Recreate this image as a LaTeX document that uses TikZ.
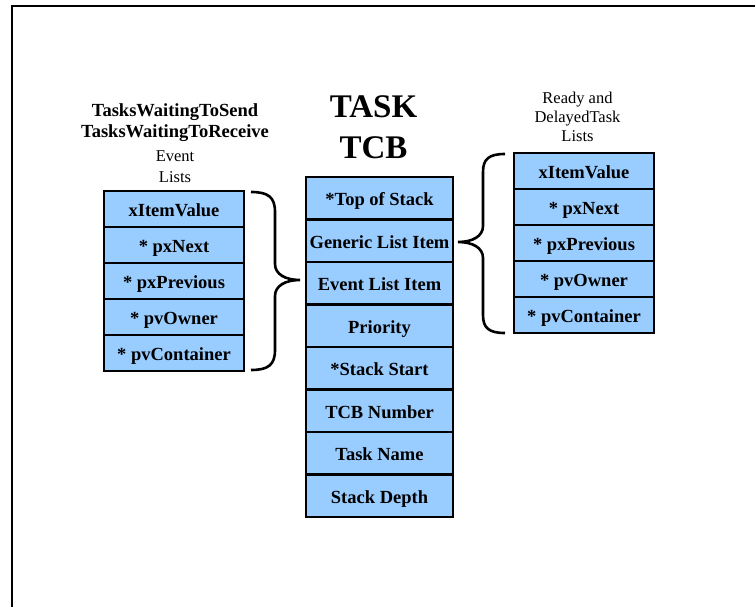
\documentclass[tikz,border=0pt]{standalone}
\usepackage{fontspec}
\setmainfont{Liberation Serif}
\definecolor{cellblue}{RGB}{153,204,255}
\newcommand\fieldfont{\bfseries\fontsize{18.5}{20}\selectfont}
\newcommand\headfont{\bfseries\fontsize{18.5}{20}\selectfont}
\newcommand\capfont{\fontsize{16.5}{19}\selectfont}
\newcommand\bigfont{\bfseries\fontsize{33}{36}\selectfont}
\begin{document}
\begin{tikzpicture}[x=1pt,y=-1pt,
  field/.style={draw=black, line width=2.6pt, fill=cellblue, inner sep=0pt,
    outer sep=0pt, font=\fieldfont, text height=16pt, text depth=1pt, anchor=north},
  brace/.style={draw=black, line width=2.6pt},
  label/.style={anchor=base, inner sep=0pt}]
\useasboundingbox (0,0) rectangle (755,607);

% outer frame (top and left edges)
\draw[line width=2.3pt] (12,607) -- (12,6) -- (755,6);

% event list item (left)
\foreach \t [count=\i] in {xItemValue, * pxNext, * pxPrevious, * pvOwner, * pvContainer}
  \node[field, minimum width=140pt, minimum height=36pt] (L\i) at (174,{191+(\i-1)*36}) {\t};

% task control block (centre)
\foreach \t [count=\i] in {*Top of Stack, Generic List Item, Event List Item, Priority,
    *Stack Start, TCB Number, Task Name, Stack Depth}
  \node[field, minimum width=147pt, minimum height=42.5pt] (C\i) at (379.5,{177+(\i-1)*42.5}) {\t};

% generic list item (right)
\foreach \t [count=\i] in {xItemValue, * pxNext, * pxPrevious, * pvOwner, * pvContainer}
  \node[field, minimum width=140pt, minimum height=36pt] (R\i) at (584,{153+(\i-1)*36}) {\t};

% titles
\node[label, font=\bigfont] (tTask) at (373.5,117.3) {TASK};
\node[label, font=\bigfont] (tTcb) at (373.5,158.3) {TCB};

\node[label, font=\headfont] (tSend) at (175,116.7) {TasksWaitingToSend};
\node[label, font=\headfont] (tRecv) at (175,138) {TasksWaitingToReceive};
\node[label, font=\capfont] (tEvent) at (175,161.7) {Event};
\node[label, font=\capfont] (tLists) at (175,182.7) {Lists};

\node[label, font=\capfont] (tReady) at (577.5,104) {Ready and};
\node[label, font=\capfont] (tDelayed) at (577.5,123) {DelayedTask};
\node[label, font=\capfont] (tRLists) at (577.5,142) {Lists};

% braces tying the list items to the TCB
\coordinate (lbTip) at (300,280);
\coordinate (rbTip) at (458,242);
\draw[brace] (251,192) .. controls (268,192) and (275,197) .. (275,212) -- (275,264)
  .. controls (275,274) and (285,280) .. (lbTip)
  .. controls (285,280) and (275,286) .. (275,296) -- (275,350)
  .. controls (275,365) and (268,370) .. (251,370);
\draw[brace] (505,154) .. controls (489,154) and (483,159) .. (483,172) -- (483,226)
  .. controls (483,236) and (473,242) .. (rbTip)
  .. controls (473,242) and (483,248) .. (483,258) -- (483,315)
  .. controls (483,328) and (489,333) .. (505,333);
\end{tikzpicture}
\end{document}
